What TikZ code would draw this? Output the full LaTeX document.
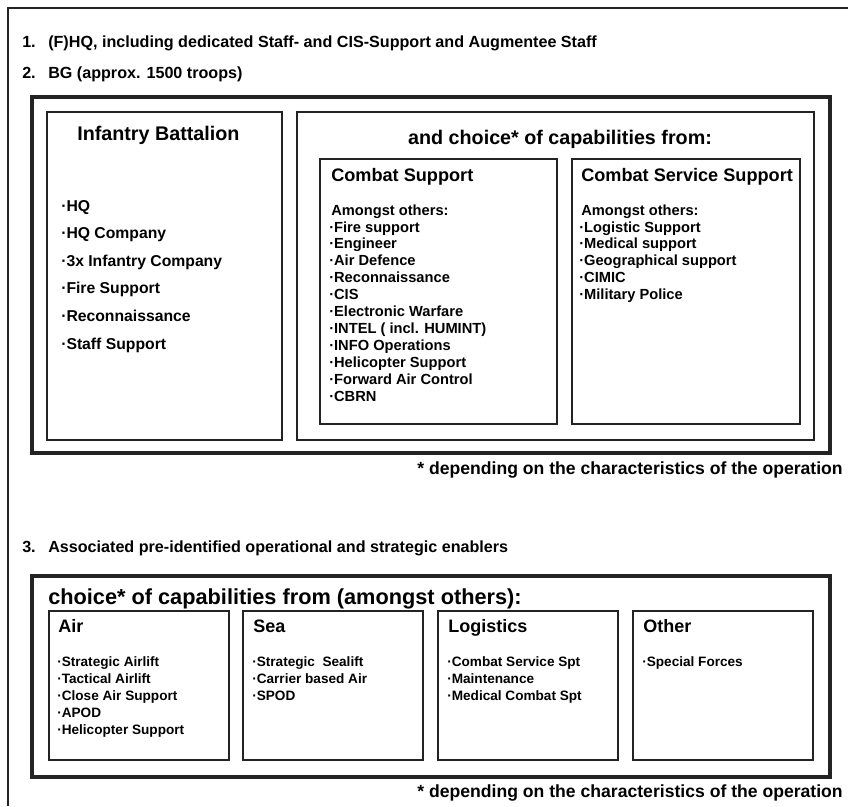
\documentclass[tikz,border=0pt]{standalone}
\usepackage{fontspec}
\setmainfont{Liberation Sans}
\usetikzlibrary{positioning}
\definecolor{linegray}{RGB}{35,35,35}
\newcommand{\bul}{·}

\begin{document}
\begin{tikzpicture}[x=0.75pt,y=-0.75pt,
	thickbox/.style={draw=linegray,line width=3pt},
	thinbox/.style={draw=linegray,line width=0.9pt},
	txt/.style={anchor=base west,inner sep=0pt,font=\bfseries#1},
	txt/.default={}]
	\useasboundingbox (0,0) rectangle (848,806);

	% page frame, open at right and bottom
	\draw [linegray, line width=1pt] (8,806) -- (8,8) -- (848,8);

	\node [txt=\fontsize{12.1}{14}\selectfont] (n1) at (22,48) {1.};
	\node [txt=\fontsize{12.1}{14}\selectfont] (hq) at (48,48) {(F)HQ, including dedicated Staff- and CIS-Support and Augmentee Staff};
	\node [txt=\fontsize{12.1}{14}\selectfont] (n2) at (22,79) {2.};
	\node [txt=\fontsize{12.1}{14}\selectfont] (bg) at (48,79) {BG (approx. 1500 troops)};

	%% battle group
	\draw [thickbox] (32,97) rectangle (830,453);
	\draw [thinbox] (47,112) rectangle (282,440);
	\draw [thinbox] (297,112) rectangle (814,440);
	\draw [thinbox] (320,159) rectangle (557,424);
	\draw [thinbox] (572,159) rectangle (800,424);

	\node [txt=\fontsize{14.8}{17}\selectfont] (inf) at (77,141) {Infantry Battalion};
	\foreach \t [count=\i] in {HQ, HQ Company, 3x Infantry Company, Fire Support, Reconnaissance, Staff Support}
		\node [txt=\fontsize{11.8}{14}\selectfont] (inf-\i) at (61,211+27.6*\i-27.6) {\bul\t};

	\node [txt=\fontsize{14.8}{17}\selectfont, anchor=base] (choice) at (560,144) {and choice* of capabilities from:};

	\node [txt=\fontsize{13.6}{16}\selectfont] (cs) at (331,181) {Combat Support};
	\node [txt=\fontsize{11}{13}\selectfont] (cs-0) at (331,215) {Amongst others:};
	\foreach \t [count=\i] in {Fire support, Engineer, Air Defence, Reconnaissance, CIS, Electronic Warfare, INTEL ( incl. HUMINT), INFO Operations, Helicopter Support, Forward Air Control, CBRN}
		\node [txt=\fontsize{11}{13}\selectfont] (cs-\i) at (329,232+16.9*\i-16.9) {\bul\t};

	\node [txt=\fontsize{13.6}{16}\selectfont] (css) at (581,181) {Combat Service Support};
	\node [txt=\fontsize{11}{13}\selectfont] (css-0) at (581,215) {Amongst others:};
	\foreach \t [count=\i] in {Logistic Support, Medical support, Geographical support, CIMIC, Military Police}
		\node [txt=\fontsize{11}{13}\selectfont] (css-\i) at (579,232+16.9*\i-16.9) {\bul\t};

	\node [txt=\fontsize{13.2}{15}\selectfont, anchor=base east] (note1) at (843,474) {* depending on the characteristics of the operation};

	%% enablers
	\node [txt=\fontsize{12.1}{14}\selectfont] (n3) at (22,552) {3.};
	\node [txt=\fontsize{12.1}{14}\selectfont] (enab) at (48,552) {Associated pre-identified operational and strategic enablers};

	\draw [thickbox] (32,576) rectangle (830,777);
	\node [txt=\fontsize{16.3}{19}\selectfont] (choice2) at (48,604) {choice* of capabilities from (amongst others):};

	\draw [thinbox] (49,611) rectangle (229,760);
	\draw [thinbox] (243,611) rectangle (423,760);
	\draw [thinbox] (438,611) rectangle (618,760);
	\draw [thinbox] (633,611) rectangle (813,760);

	\node [txt=\fontsize{13.5}{16}\selectfont] (air) at (58,632) {Air};
	\foreach \t [count=\i] in {Strategic Airlift, Tactical Airlift, Close Air Support, APOD, Helicopter Support}
		\node [txt=\fontsize{10.2}{12}\selectfont] (air-\i) at (57,666+17*\i-17) {\bul\t};

	\node [txt=\fontsize{13.5}{16}\selectfont] (sea) at (253,632) {Sea};
	\foreach \t [count=\i] in {Strategic\ \ Sealift, Carrier based Air, SPOD}
		\node [txt=\fontsize{10.2}{12}\selectfont] (sea-\i) at (252,666+17*\i-17) {\bul\t};

	\node [txt=\fontsize{13.5}{16}\selectfont] (log) at (448,632) {Logistics};
	\foreach \t [count=\i] in {Combat Service Spt, Maintenance, Medical Combat Spt}
		\node [txt=\fontsize{10.2}{12}\selectfont] (log-\i) at (447,666+17*\i-17) {\bul\t};

	\node [txt=\fontsize{13.5}{16}\selectfont] (oth) at (643,632) {Other};
	\node [txt=\fontsize{10.2}{12}\selectfont] (oth-1) at (642,666) {\bul Special Forces};

	\node [txt=\fontsize{13.2}{15}\selectfont, anchor=base east] (note2) at (843,797) {* depending on the characteristics of the operation};
\end{tikzpicture}
\end{document}
